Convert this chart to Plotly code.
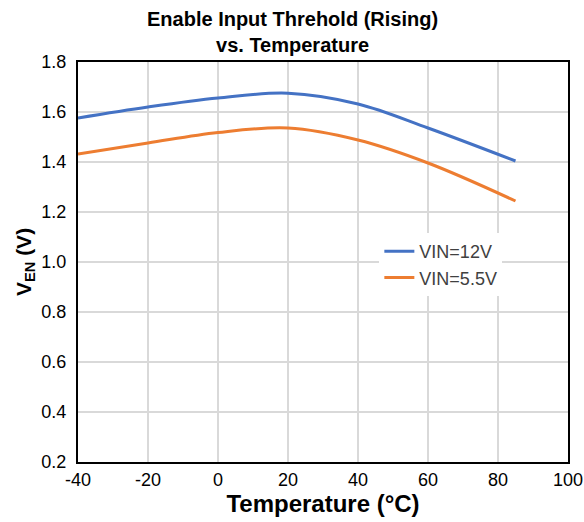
import plotly.graph_objects as go

temp = [-40, -20, 0, 20, 40, 60, 85]
ven_12v = [1.576, 1.620, 1.656, 1.675, 1.632, 1.536, 1.404]
ven_5v5 = [1.432, 1.476, 1.518, 1.536, 1.488, 1.396, 1.244]

x_ticks = [-40, -20, 0, 20, 40, 60, 80, 100]
x_labels = ['-40', '-20', '0', '20', '40', '60', '80', '100']

fig = go.Figure()
fig.add_trace(go.Scatter(x=temp, y=ven_12v, mode='lines', name='VIN=12V',
                         line=dict(color='#4472C4', width=3, shape='spline')))
fig.add_trace(go.Scatter(x=temp, y=ven_5v5, mode='lines', name='VIN=5.5V',
                         line=dict(color='#ED7D31', width=3, shape='spline')))

axis_font = dict(family='Liberation Sans, Arial, sans-serif', size=18, color='#000000')

fig.update_layout(
    width=584, height=522,
    margin=dict(l=78, r=16, t=62, b=60, autoexpand=False),
    paper_bgcolor='white', plot_bgcolor='white',
    font=dict(family='Liberation Sans, Arial, sans-serif', color='#000000'),
    legend=dict(x=0.615, y=0.5725, xanchor='left', yanchor='top',
                bgcolor='white', font=dict(size=18, color='#404040'),
                itemwidth=30),
    xaxis=dict(range=[-40, 100], tickvals=x_ticks, ticktext=x_labels, showgrid=True,
               gridcolor='#D9D9D9', gridwidth=1.5, showline=True, linecolor='#000000',
               linewidth=2, mirror=True, ticks='', tickfont=axis_font, zeroline=False,
               automargin=False,
               title=dict(text='<b>Temperature (°C)</b>', font=dict(size=24), standoff=7)),
    yaxis=dict(range=[0.2, 1.8], dtick=0.2, tick0=0.2, tickformat='.1f', showgrid=True,
               gridcolor='#D9D9D9', gridwidth=1.5, showline=True, linecolor='#000000',
               linewidth=2, mirror=True, ticks='', tickfont=axis_font, zeroline=False,
               ticklabelstandoff=6, automargin=False,
               title=dict(text='<b>V<sub>EN</sub> (V)</b>', font=dict(size=21), standoff=4)),
)

fig.add_annotation(text='<b>Enable Input Threhold (Rising)<br>vs. Temperature</b>',
                   xref='paper', yref='paper', x=0.5, y=1, xanchor='center', yanchor='bottom',
                   xshift=-31, yshift=4, showarrow=False,
                   font=dict(size=20, color='#000000'))

# drop the page's default body margin so the figure sits at the window's corner
fig.write_html("out.html", config={'displayModeBar': False},
               post_script="document.body.style.margin='0';")
